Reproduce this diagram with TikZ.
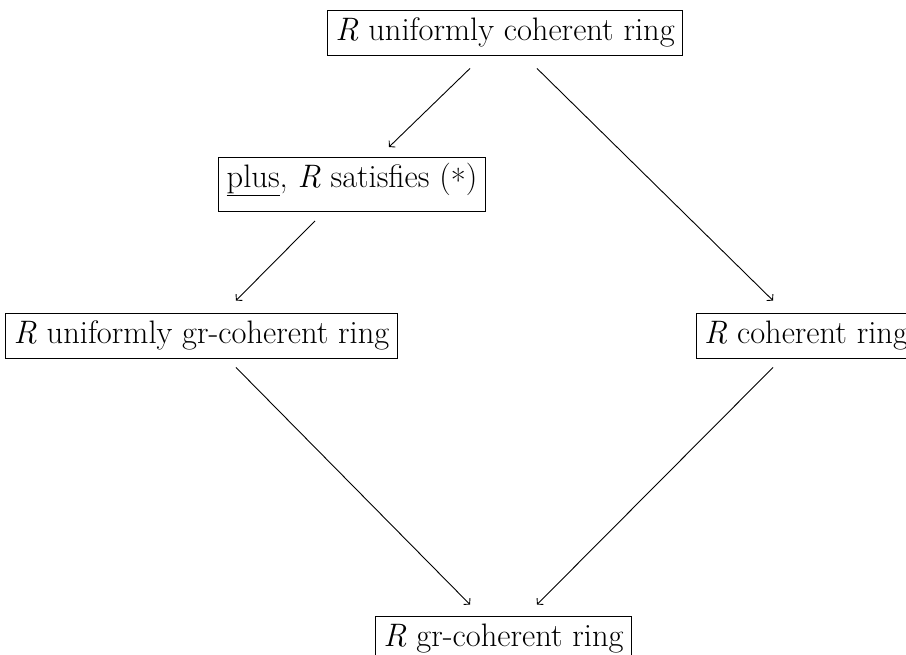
\documentclass[tikz,border=0pt]{standalone}
\usetikzlibrary{arrows.meta}
\newcommand{\Rit}{\textit{R}}
\tikzset{
  box/.style={draw, line width=0.9pt, inner xsep=8pt, inner ysep=7.5pt, text height=23pt, text depth=7pt, font=\fontsize{32.5}{39}\selectfont},
  arr/.style={line width=0.9pt, -{Straight Barb[length=4pt,width=9pt]}}
}
\begin{document}
\begin{tikzpicture}[x=1pt,y=1pt]
\useasboundingbox (0,0) rectangle (906,-655);
\node[box] (top) at (505,-32.5) {\Rit\ uniformly coherent ring};
\node[box, text depth=16pt, anchor=north] (plus) at (352,-157) {\underline{plus}, \Rit\ satisfies (\raisebox{-0.3ex}{*})};
\node[box] (left) at (201.5,-335.5) {\Rit\ uniformly gr-coherent ring};
\node[box] (right) at (806,-335.5) {\Rit\ coherent ring};
\node[box] (bot) at (503.5,-638.5) {\Rit\ gr-coherent ring};
\draw[arr] ([xshift=-35pt,yshift=-13pt]top.south) -- ([xshift=37pt,yshift=10pt]plus.north);
\draw[arr] ([xshift=32pt,yshift=-13pt]top.south) -- ([xshift=-33pt,yshift=12pt]right.north);
\draw[arr] ([xshift=-37pt,yshift=-9pt]plus.south) -- ([xshift=34.5pt,yshift=12pt]left.north);
\draw[arr] ([xshift=34.5pt,yshift=-9pt]left.south) -- ([xshift=-33.5pt,yshift=11pt]bot.north);
\draw[arr] ([xshift=-33pt,yshift=-9pt]right.south) -- ([xshift=33.5pt,yshift=11pt]bot.north);
\end{tikzpicture}
\end{document}
